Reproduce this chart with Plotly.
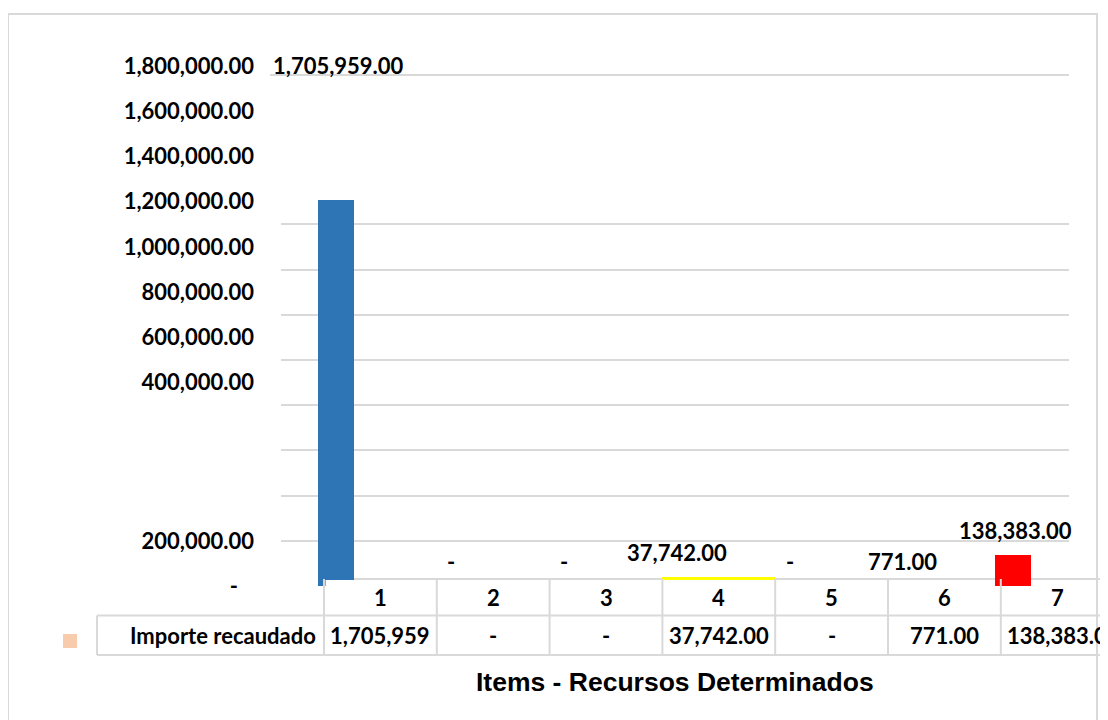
import plotly.graph_objects as go

# ---------------- data ----------------
items = [1, 2, 3, 4, 5, 6, 7]
importe = [1705959, 0, 0, 37742, 0, 771, 138383]
bar_colors = ["#2E75B6", "#2E75B6", "#2E75B6", "#FFFF00", "#2E75B6", "#2E75B6", "#FF0000"]
series_name = "Importe recaudado"
table_row_text = ["1,705,959", "-", "-", "37,742.00", "-", "771.00", "138,383.0"]
ytick_values = [0, 200000, 400000, 600000, 800000, 1000000, 1200000, 1400000, 1600000, 1800000]
grid_values = [200000, 400000, 600000, 800000, 1000000, 1200000, 1400000, 1600000]
axis_top_grid = 2261000
x_title = "Items - Recursos Determinados"

# ---------------- layout geometry / style ----------------
OFF = 8  # page body margin
W, H = 1108, 720
BASE_Y, TOP_Y, LEFT_X, RIGHT_X = 586, 40, 281, 1069   # page pixels of plot area
ML, MR, MT, MB = LEFT_X - OFF, W - (RIGHT_X - OFF), TOP_Y - OFF, H - (BASE_Y - OFF)
PW, PH = W - ML - MR, H - MT - MB
Y_TOP = axis_top_grid * (BASE_Y - TOP_Y) / (BASE_Y - 75)
X0, X1 = 0.1188, 7.1046
UPPER_LABEL_SHIFT = 500000
BAR_OFFSET, BAR_WIDTH = -0.55, 0.315
LABEL_DX = -0.37
GRID = "#D9D9D9"
FONT = "Lato"
FS = 22


def pxx(px):
    return (px - LEFT_X) / (RIGHT_X - LEFT_X)


def pxy(py):
    return (BASE_Y - py) / (BASE_Y - TOP_Y)


def catx(k):
    return (k - X0) / (X1 - X0)


def fmt(v):
    return "-" if v == 0 else f"{v:,.2f}"


offsets = [(-0.5 if c == "#FFFF00" else BAR_OFFSET) for c in bar_colors]
widths = [(1.0 if c == "#FFFF00" else BAR_WIDTH) for c in bar_colors]

fig = go.Figure()
fig.add_trace(go.Bar(x=items, y=importe, marker=dict(color=bar_colors, line=dict(width=0)),
                     offset=offsets, width=widths, name=series_name, showlegend=False,
                     hoverinfo="skip"))

label_pos = [v if v <= 200000 else v + UPPER_LABEL_SHIFT for v in ytick_values]
label_txt = [("-\u00a0\u00a0\u00a0" if v == 0 else f"{v:,.2f}") for v in ytick_values]

shapes = []
annotations = []

# outer frame
shapes.append(dict(type="rect", xref="paper", yref="paper", x0=pxx(8), x1=pxx(1097),
                   y0=pxy(740), y1=pxy(14), line=dict(color=GRID, width=2), layer="below"))
# top gridline
shapes.append(dict(type="line", xref="paper", yref="y", x0=pxx(270), x1=1, y0=axis_top_grid,
                   y1=axis_top_grid, line=dict(color=GRID, width=2), layer="below"))

# table
y_hdr_top, y_hdr_bot, y_row_bot = 579, 615.5, 655
shapes.append(dict(type="line", xref="paper", yref="paper", x0=catx(0.5), x1=catx(7.5),
                   y0=pxy(y_hdr_top), y1=pxy(y_hdr_top), line=dict(color=GRID, width=2), layer="below"))
shapes.append(dict(type="rect", xref="paper", yref="paper", x0=catx(0.5) + 0.002, x1=catx(6.3),
                   y0=pxy(590), y1=pxy(580), fillcolor="white", line=dict(width=0), layer="above"))
for yy in (y_hdr_bot, y_row_bot):
    shapes.append(dict(type="line", xref="paper", yref="paper", x0=pxx(97), x1=catx(7.5),
                       y0=pxy(yy), y1=pxy(yy), line=dict(color=GRID, width=2)))
for k in range(1, 8):
    shapes.append(dict(type="line", xref="paper", yref="paper", x0=catx(k - 0.5), x1=catx(k - 0.5),
                       y0=pxy(y_row_bot), y1=pxy(y_hdr_top), line=dict(color=GRID, width=2)))
shapes.append(dict(type="line", xref="paper", yref="paper", x0=pxx(97), x1=pxx(97),
                   y0=pxy(y_row_bot), y1=pxy(y_hdr_bot), line=dict(color=GRID, width=2)))
# legend key
shapes.append(dict(type="rect", xref="paper", yref="paper", x0=pxx(63), x1=pxx(77),
                   y0=pxy(648), y1=pxy(634), fillcolor="#F8CBAD", line=dict(width=0)))

tfont = dict(family=FONT, size=FS, color="black", weight="bold")
for k, txt in zip(items, table_row_text):
    annotations.append(dict(xref="paper", yref="paper", x=catx(k), y=pxy(597), text=str(k),
                            showarrow=False, font=tfont, xanchor="center", yanchor="middle"))
    annotations.append(dict(xref="paper", yref="paper", x=catx(k), y=pxy(635), text=txt,
                            showarrow=False, font=tfont, xanchor="center", yanchor="middle"))
annotations.append(dict(xref="paper", yref="paper", x=pxx(318), y=pxy(635), text=series_name,
                        showarrow=False, font=tfont, xanchor="right", yanchor="middle"))

# data labels
for k, v in zip(items, importe):
    if v > 1000000:
        annotations.append(dict(xref="x", yref="y", x=k + LABEL_DX, y=axis_top_grid, yshift=10,
                                text=fmt(v), showarrow=False, font=tfont))
    else:
        annotations.append(dict(xref="x", yref="y", x=k + LABEL_DX, y=v, yshift=24.5,
                                text=fmt(v), showarrow=False, font=tfont))

# x title
annotations.append(dict(xref="paper", yref="paper", x=0.5, y=pxy(682), text=x_title,
                        showarrow=False, xanchor="center", yanchor="middle",
                        font=dict(family="Liberation Sans", size=26.5, color="black", weight="bold")))

fig.update_layout(
    template="none",
    width=W, height=H,
    margin=dict(l=ML, r=MR, t=MT, b=MB, autoexpand=False),
    paper_bgcolor="white", plot_bgcolor="rgba(0,0,0,0)",
    showlegend=False,
    bargap=0,
    xaxis=dict(range=[X0, X1], showgrid=False, zeroline=False, showline=False,
               showticklabels=False, ticks="", automargin=False),
    yaxis=dict(range=[0, Y_TOP], tickvals=grid_values, showticklabels=False, showgrid=True,
               gridcolor=GRID, gridwidth=2, zeroline=False, showline=False, ticks="",
               automargin=False),
    yaxis2=dict(overlaying="y", side="left", range=[0, Y_TOP], tickvals=label_pos,
                ticktext=label_txt, showgrid=False, zeroline=False, showline=False, ticks="",
                ticklabelstandoff=26, automargin=False,
                tickfont=dict(family=FONT, size=FS, color="black", weight="bold")),
    shapes=shapes,
    annotations=annotations,
)
fig.add_trace(go.Scatter(x=[None], y=[None], yaxis="y2", showlegend=False, hoverinfo="skip"))

fig.write_html("out.html")
